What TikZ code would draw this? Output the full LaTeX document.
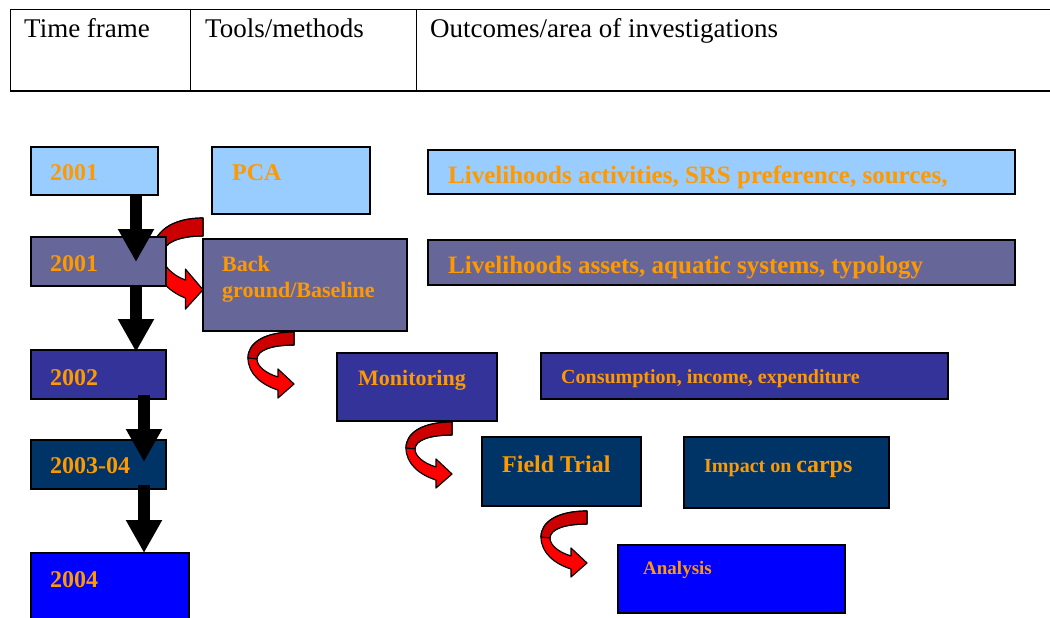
\documentclass[tikz,border=0pt]{standalone}
\usepackage{fontspec}
\setmainfont{Liberation Serif}
\usetikzlibrary{arrows.meta}

\definecolor{paleblue}{HTML}{99CCFF}
\definecolor{greyblue}{HTML}{666699}
\definecolor{indigo}{HTML}{333399}
\definecolor{navy}{HTML}{003366}
\definecolor{pureblue}{HTML}{0000FF}
\definecolor{amber}{HTML}{FF9900}
\definecolor{darkred}{HTML}{CC0000}

\tikzset{
    box/.style={draw=black, line width=1.6pt, anchor=north west,
        inner sep=0pt, outer sep=0pt},
    boxtext/.style={anchor=base west, inner sep=0pt, text=amber},
    downarrow/.style={line width=12pt, -{Triangle[length=33pt,width=34pt]}},
    redturn/.pic={
        \filldraw[fill=red, draw=black, line width=1.2pt, line join=round]
            (0,0) .. controls (-28,0) and (-46,10) .. (-46,26)
            .. controls (-46,42) and (-32,53) .. (-16,58)
            -- (-16,66) -- (0,52) -- (-16,37) -- (-16,45)
            .. controls (-29,41) and (-37,34) .. (-37,27)
            .. controls (-37,18) and (-22,13) .. (0,13) -- cycle;
        \filldraw[fill=darkred, draw=black, line width=1.2pt, line join=round]
            (0,0) .. controls (-28,0) and (-46,10) .. (-46,26)
            -- (-37,27) .. controls (-37,18) and (-22,13) .. (0,13) -- cycle;
    }
}

\begin{document}
\begin{tikzpicture}[x=1pt, y=-1pt]
\useasboundingbox (0,0) rectangle (1050,618);

% Header row of the table
\draw[line width=1pt] (10,10) -- (1050,10);
\draw[line width=2pt] (10,91) -- (1050,91);
\draw[line width=1pt] (10,10) -- (10,91);
\draw[line width=1pt] (190,10) -- (190,91);
\draw[line width=1pt] (416,10) -- (416,91);
\node[anchor=base west, inner sep=0pt, font=\fontsize{27}{30}\selectfont] (hdtime) at (24,38) {Time frame};
\node[anchor=base west, inner sep=0pt, font=\fontsize{27}{30}\selectfont] (hdtools) at (205,38) {Tools/methods};
\node[anchor=base west, inner sep=0pt, font=\fontsize{27}{30}\selectfont] (hdout) at (430,38) {Outcomes/area of investigations};

% First red turn sits behind the second year box
\pic[xscale=1.1, yscale=1.38] at (203,218) {redturn};

% Year boxes
\node[box, fill=paleblue, minimum width=127pt, minimum height=48pt] (y2001a) at (31,147) {};
\node[box, fill=greyblue, minimum width=135pt, minimum height=49pt] (y2001b) at (31,237) {};
\node[box, fill=indigo, minimum width=135pt, minimum height=49pt] (y2002) at (31,350) {};
\node[box, fill=navy, minimum width=135pt, minimum height=49pt] (y2003) at (31,440) {};
\node[box, fill=pureblue, minimum width=158pt, minimum height=75pt] (y2004) at (31,553) {};

% Tool boxes
\node[box, fill=paleblue, minimum width=158pt, minimum height=67pt] (pca) at (212,147) {};
\node[box, fill=greyblue, minimum width=204pt, minimum height=92pt] (back) at (203,239) {};
\node[box, fill=indigo, minimum width=160pt, minimum height=68pt] (monitor) at (337,353) {};
\node[box, fill=navy, minimum width=159pt, minimum height=69pt] (field) at (482,437) {};
\node[box, fill=pureblue, minimum width=227pt, minimum height=68pt] (analysis) at (618,545) {};

% Outcome boxes
\node[box, fill=paleblue, minimum width=587pt, minimum height=44pt] (liveact) at (428,150) {};
\node[box, fill=greyblue, minimum width=587pt, minimum height=45pt] (liveass) at (428,240) {};
\node[box, fill=indigo, minimum width=407pt, minimum height=46pt] (consum) at (541,353) {};
\node[box, fill=navy, minimum width=205pt, minimum height=71pt] (impact) at (684,437) {};

% Texts
\node[boxtext, font=\bfseries\fontsize{24}{26}\selectfont] (t2001a) at ([shift={(19,33)}]y2001a.north west) {2001};
\node[boxtext, font=\bfseries\fontsize{24}{26}\selectfont] (t2001b) at ([shift={(19,34)}]y2001b.north west) {2001};
\node[boxtext, font=\bfseries\fontsize{24}{26}\selectfont] (t2002) at ([shift={(19,35)}]y2002.north west) {2002};
\node[boxtext, font=\bfseries\fontsize{24}{26}\selectfont] (t2003) at ([shift={(19,33)}]y2003.north west) {2003-04};
\node[boxtext, font=\bfseries\fontsize{24}{26}\selectfont] (t2004) at ([shift={(19,34)}]y2004.north west) {2004};

\node[boxtext, font=\bfseries\fontsize{24}{26}\selectfont] (tpca) at ([shift={(20,33)}]pca.north west) {PCA};
\node[boxtext, font=\bfseries\fontsize{22}{26}\selectfont] (tback) at ([shift={(19,32)}]back.north west) {Back};
\node[boxtext, font=\bfseries\fontsize{22}{26}\selectfont] (tground) at ([shift={(19,58)}]back.north west) {ground/Baseline};
\node[boxtext, font=\bfseries\fontsize{22}{26}\selectfont] (tmonitor) at ([shift={(21,32)}]monitor.north west) {Monitoring};
\node[boxtext, font=\bfseries\fontsize{24}{26}\selectfont] (tfield) at ([shift={(20,35)}]field.north west) {Field Trial};
\node[boxtext, font=\bfseries\fontsize{19}{22}\selectfont] (tanalysis) at ([shift={(25,29)}]analysis.north west) {Analysis};

\node[boxtext, font=\bfseries\fontsize{25}{28}\selectfont] (tliveact) at ([shift={(20,33)}]liveact.north west) {Livelihoods activities, SRS preference, sources,};
\node[boxtext, font=\bfseries\fontsize{25}{28}\selectfont] (tliveass) at ([shift={(20,33)}]liveass.north west) {Livelihoods assets, aquatic systems, typology};
\node[boxtext, font=\bfseries\fontsize{20}{24}\selectfont] (tconsum) at ([shift={(20,30)}]consum.north west) {Consumption, income, expenditure};
\node[boxtext, font=\bfseries\fontsize{20}{24}\selectfont] (timpact) at ([shift={(20,35)}]impact.north west) {Impact on {\fontsize{24}{26}\selectfont carps}};

% Time line arrows
\draw[downarrow, shorten >=-25pt] ([xshift=105pt]y2001a.south west) -- ([xshift=105pt]y2001b.north west);
\draw[downarrow, shorten >=-2pt] ([xshift=105pt]y2001b.south west) -- ([xshift=105pt]y2002.north west);
\draw[downarrow, shorten <=-4pt, shorten >=-22pt] ([xshift=113pt]y2002.south west) -- ([xshift=113pt]y2003.north west);
\draw[downarrow, shorten <=-4pt] ([xshift=113pt]y2003.south west) -- ([xshift=113pt]y2004.north west);

% Red turns between the tools
\pic at (294,332) {redturn};
\pic at (452,422) {redturn};
\pic at (587,511) {redturn};

\end{tikzpicture}
\end{document}
